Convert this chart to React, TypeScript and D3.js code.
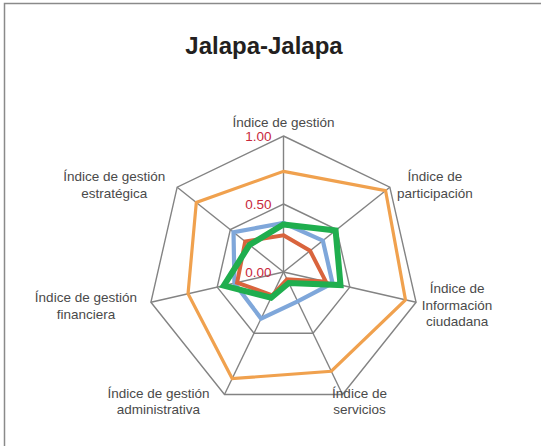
import React from 'react';
import * as d3 from 'd3';

// axis names (lines of each label)
const axisLabels: string[][] = [
  ['Índice de gestión'],
  ['Índice de', 'participación'],
  ['Índice de', 'Información', 'ciudadana'],
  ['Índice de', 'servicios'],
  ['Índice de gestión', 'administrativa'],
  ['Índice de gestión', 'financiera'],
  ['Índice de gestión', 'estratégica'],
];

const tickValues = [0, 0.5, 1];
const tickLabels = ['0.00', '0.50', '1.00'];

const seriesOrange = [0.74, 0.96, 0.92, 0.81, 0.87, 0.72, 0.82];
const seriesBlue = [0.36, 0.37, 0.37, 0.24, 0.38, 0.37, 0.47];
const seriesRed = [0.27, 0.25, 0.32, 0.06, 0.19, 0.35, 0.36];
const seriesGreen = [0.35, 0.49, 0.43, 0.09, 0.21, 0.45, 0.32];

const W = 541;
const H = 446;
const cx = 283.5;
const cy = 272;
const R = 136;

// label offsets from the outer vertex (layout only)
const labelOffsets: [number, number][] = [
  [0, -9],
  [45, -6],
  [41, -9],
  [17, 3],
  [-66, 3],
  [-65, 0],
  [-63, -6],
];

export default function App() {
  const n = axisLabels.length;
  const angle = d3
    .scaleLinear()
    .domain([0, n])
    .range([0, 2 * Math.PI]);
  const r = d3.scaleLinear().domain([0, 1]).range([0, R]);

  const pt = (i: number, v: number): [number, number] => {
    const a = angle(i) - Math.PI / 2;
    return [cx + r(v) * Math.cos(a), cy + r(v) * Math.sin(a)];
  };

  const radar = d3
    .lineRadial<number>()
    .angle((_, i) => angle(i))
    .radius((d) => r(d))
    .curve(d3.curveLinearClosed);

  const series = [
    { vals: seriesOrange, color: '#F0A14E', width: 3.2 },
    { vals: seriesBlue, color: '#7FA7DA', width: 4.2 },
    { vals: seriesRed, color: '#D9643D', width: 4 },
    { vals: seriesGreen, color: '#1FAE4E', width: 6 },
  ];

  const gridLevels = [0.5, 1];
  const font = '"Liberation Sans", Arial, Helvetica, sans-serif';

  return (
    <svg
      width={W}
      height={H}
      style={{ position: 'absolute', left: 0, top: 0, background: '#fff' }}
    >
      <rect
        x={4.5}
        y={3.5}
        width={W + 10}
        height={H + 10}
        fill="#fff"
        stroke="#8a8a8a"
        strokeWidth={1.5}
      />
      <text
        x={264}
        y={54}
        textAnchor="middle"
        fontFamily={font}
        fontWeight="bold"
        fontSize={24}
        fill="#231f20"
      >
        Jalapa-Jalapa
      </text>

      {/* grid */}
      <g stroke="#838383" strokeWidth={1.4} fill="none">
        {gridLevels.map((lv) => (
          <polygon
            key={lv}
            points={d3
              .range(n)
              .map((i) => pt(i, lv).join(','))
              .join(' ')}
          />
        ))}
        {d3.range(n).map((i) => {
          const [x, y] = pt(i, 1);
          return <line key={i} x1={cx} y1={cy} x2={x} y2={y} />;
        })}
      </g>

      {/* series */}
      <g transform={`translate(${cx},${cy})`} fill="none">
        {series.map((s, k) => (
          <path
            key={k}
            d={radar(s.vals) || ''}
            stroke={s.color}
            strokeWidth={s.width}
            strokeLinejoin="miter"
          />
        ))}
      </g>

      {/* ticks */}
      <g fontFamily={font} fontSize={13.5} fill="#C8283C" textAnchor="end">
        {tickValues.map((t, i) => (
          <text key={t} x={cx - 12} y={cy - r(t) + 5}>
            {tickLabels[i]}
          </text>
        ))}
      </g>

      {/* axis labels */}
      <g fontFamily={font} fontSize={13.5} fill="#4a4a4a" textAnchor="middle">
        {axisLabels.map((lines, i) => {
          const [x, y] = pt(i, 1);
          const [dx, dy] = labelOffsets[i];
          return (
            <text key={i} x={x + dx} y={y + dy}>
              {lines.map((l, j) => (
                <tspan key={j} x={x + dx} dy={j === 0 ? 0 : 16.5}>
                  {l}
                </tspan>
              ))}
            </text>
          );
        })}
      </g>
    </svg>
  );
}
